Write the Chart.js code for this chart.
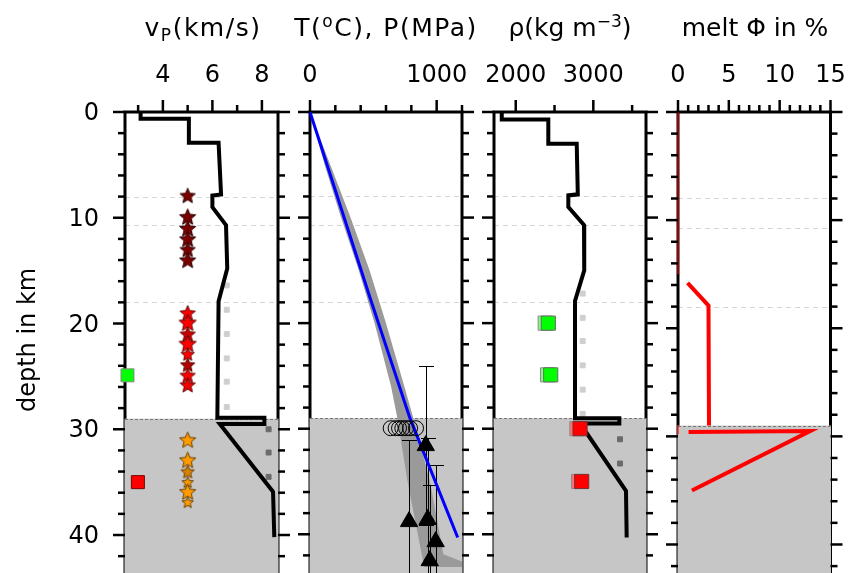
<!DOCTYPE html>
<html lang="en">
<head>
    <meta charset="UTF-8">
    <title>Crustal profile</title>
    <style>
        body { margin: 0; background: #fff; font-family: "DejaVu Sans", sans-serif; }
        #wrap { position: relative; width: 852px; height: 573px; overflow: hidden; }
        canvas { position: absolute; left: 0; top: 0; }
        .title { position: absolute; top: 13px; font-size: 25px; line-height: 29px; white-space: nowrap; transform: translateX(-50%); color: #000; }
        .title sub { font-size: 0.68em; vertical-align: -0.3em; line-height: 0; }
        .title sup { font-size: 0.68em; vertical-align: 0.55em; line-height: 0; }
        .wide { letter-spacing: 1.5px; }
    </style>
</head>
<body>
<div id="wrap">
    <canvas id="vp" width="852" height="578"></canvas>
    <canvas id="tp" width="852" height="578"></canvas>
    <canvas id="rho" width="852" height="578"></canvas>
    <canvas id="melt" width="852" height="578"></canvas>
    <div class="title wide" style="left:203px">v<sub>P</sub>(km/s)</div>
    <div class="title wide" style="left:386px">T(<sup>o</sup>C), P(MPa)</div>
    <div class="title" style="left:570px">&rho;(kg m<sup>&minus;3</sup>)</div>
    <div class="title" style="left:755px">melt &Phi; in %</div>
</div>

<script src="https://cdn.jsdelivr.net/npm/chart.js"></script>
<script>
// ---- depth axis (shared) ----
const depthTicks = [0, 10, 20, 30, 40];
const depthMinor = [2, 4, 6, 8, 12, 14, 16, 18, 22, 24, 26, 28, 32, 34, 36, 38, 42];
const dashDepths = [8, 10.7, 18];
const lowerCrustTop = 29;

// ---- panel 1: vP ----
const vpTicks = [4, 6, 8];
const vpMinor = [3, 5, 7];
const vpDepth = [0, 0.65, 0.65, 2.9, 2.9, 7.8, 7.9, 9.0, 10.7, 14.8, 17.9, 28.9, 28.9, 29.5, 29.5, 35.9, 40.2];
const vpVal   = [3.1, 3.1, 5.05, 5.05, 6.25, 6.35, 6.0, 6.0, 6.55, 6.6, 6.25, 6.2, 8.1, 8.1, 6.3, 8.45, 8.5];
const vpRefUpperDepth = [16.4, 18.7, 21.0, 23.3, 25.5, 27.9];
const vpRefUpperVal = 6.58;
const vpRefLowerDepth = [30.0, 32.2, 34.5];
const vpRefLowerVal = 8.27;
const starVp = 5.0;
const starDarkDepth = [7.9, 9.9, 11.0, 12.0, 13.0, 14.0];
const starRedDepth = [19.0, 19.9, 21.0, 21.9, 22.9, 23.9, 24.9, 25.8];
const starOrangeDepth = [31.0, 32.9, 34.0, 35.0, 35.9, 36.9];
const vpGreen = [{ v: 2.57, d: 24.9 }];
const vpRed = [{ v: 2.99, d: 35.0 }];

// ---- panel 2: T, P ----
const tpTicks = [0, 1000];
const tpMinor = [200, 400, 600, 800, 1200];
const presDepth = [0, 17.6, 29, 40.3];
const presVal   = [0, 474, 789, 1166];
const bandLeftDepth  = [0, 5, 10, 15, 20, 26, 29, 35, 41.9, 43.3];
const bandLeftT      = [0, 115, 245, 385, 510, 640, 690, 770, 882, 905];
const bandRightDepth = [0, 5, 10, 15, 20, 26, 29, 35, 41.9, 42.6, 43.3];
const bandRightT     = [0, 160, 320, 470, 600, 745, 816, 947, 1053, 1205, 1205];
const circT = [637, 676, 703, 729, 758, 790, 837];
const circDepth = 29.95;
const triT = [914, 782, 929, 992, 945];
const triDepth = [31.6, 38.8, 38.6, 40.7, 42.5];
const triErr = [7.5, 7.7, 7.7, 7.3, 7.2];

// ---- panel 3: density ----
const rhoTicks = [2000, 3000];
const rhoMinor = [2500, 3500];
const rhoDepth = [0, 0.7, 0.7, 3.0, 3.0, 7.8, 7.9, 9.0, 10.7, 15.0, 17.9, 29.0, 29.0, 29.5, 29.5, 35.9, 40.3];
const rhoVal   = [1820, 1820, 2420, 2420, 2786, 2800, 2678, 2678, 2880, 2883, 2764, 2764, 3335, 3335, 2830, 3421, 3430];
const rhoRefUpperDepth = [17.2, 19.5, 21.7, 24.0, 26.3, 28.6];
const rhoRefUpperVal = 2863;
const rhoRefLowerDepth = [31.0, 33.3];
const rhoRefLowerVal = 3344;
const rhoGreen = [{ v: 2420, d: 20.0 }, { v: 2451, d: 24.9 }];
const rhoRed = [{ v: 2829, d: 30.0 }, { v: 2850, d: 35.0 }];

// ---- panel 4: melt ----
const meltTicks = [0, 5, 10, 15];
const meltMinor = [1, 2, 3, 4, 6, 7, 8, 9, 11, 12, 13, 14];
const meltThinDepth = [0, 15.0, null, 29.0, 29.8];
const meltThinVal   = [0, 0, null, 0, 0];
const meltDepth = [15.8, 17.9, 29.0, null, 29.6, 29.5, 35.0];
const meltVal   = [0.94, 3.0, 3.05, null, 1.04, 13.0, 1.37];

Chart.defaults.font.family = '"DejaVu Sans", sans-serif';
Chart.defaults.font.size = 24;
Chart.defaults.color = '#000';

const pts = (xs, ys) => xs.map((x, i) => ({ x: x, y: ys[i] }));
const col = (x, ys) => ys.map(y => ({ x: x, y: y }));

function starImage(r, fill, stroke) {
    const c = document.createElement('canvas');
    const s = Math.ceil(2 * r + 4);
    c.width = c.height = s;
    const g = c.getContext('2d');
    g.beginPath();
    for (let i = 0; i < 10; i++) {
        const rr = i % 2 ? r * 0.45 : r;
        const a = -Math.PI / 2 + i * Math.PI / 5;
        g.lineTo(s / 2 + rr * Math.cos(a), s / 2 + rr * Math.sin(a) + r * 0.08);
    }
    g.closePath();
    g.fillStyle = fill;
    g.fill();
    g.strokeStyle = stroke;
    g.lineWidth = 1;
    g.stroke();
    return c;
}

const darkStars = [8, 8.5, 8.5, 8.5, 8, 8.5].map(r => starImage(r, '#7a0000', '#2a0000'));
const redStars = [[8, '#ff0000'], [9, '#ff0000'], [8, '#cc0000'], [9, '#ff0000'], [7, '#ff0000'], [7.5, '#b00000'], [8, '#ff0000'], [8, '#f00000']]
    .map(s => starImage(s[0], s[1], '#600000'));
const orangeStars = [[8.5, '#ff9a00'], [8.5, '#ff9a00'], [7, '#d98200'], [6, '#ff9a00'], [8.5, '#ff9a00'], [6, '#ff9a00']]
    .map(s => starImage(s[0], s[1], '#6a4000'));

function line(ctx, x1, y1, x2, y2) {
    ctx.beginPath();
    ctx.moveTo(x1, y1);
    ctx.lineTo(x2, y2);
    ctx.stroke();
}

// frame, dashed marker lines, grey lower crust and tick marks
const framePlugin = {
    id: 'frame',
    beforeDatasetsDraw(chart) {
        const { ctx, chartArea: a } = chart;
        const y = chart.scales.y;
        ctx.save();
        ctx.strokeStyle = '#d6d6d6';
        ctx.lineWidth = 1;
        ctx.setLineDash([5, 4]);
        dashDepths.forEach(d => {
            const py = Math.round(y.getPixelForValue(d)) + 0.5;
            line(ctx, a.left, py, a.right, py);
        });
        ctx.setLineDash([]);
        ctx.strokeStyle = '#000';
        ctx.lineWidth = 3;
        ctx.strokeRect(a.left, a.top, a.right - a.left, a.bottom - a.top + 20);
        const gy = y.getPixelForValue(lowerCrustTop);
        ctx.fillStyle = '#c6c6c6';
        ctx.fillRect(a.left - 0.5, gy, a.right - a.left + 1, a.bottom - gy + 10);
        ctx.strokeStyle = '#777';
        ctx.lineWidth = 1;
        ctx.setLineDash([3, 2]);
        line(ctx, a.left, Math.round(gy) + 0.5, a.right, Math.round(gy) + 0.5);
        ctx.restore();
    },
    afterDatasetDraw(chart, args) {
        if (chart.data.datasets[args.index].label !== 'band') return;
        const { ctx } = chart;
        const x = chart.scales.x, y = chart.scales.y;
        ctx.save();
        ctx.strokeStyle = '#000';
        ctx.lineWidth = 1;
        triT.forEach((t, i) => {
            const px = Math.round(x.getPixelForValue(t)) + 0.5;
            const y1 = Math.round(y.getPixelForValue(triDepth[i] - triErr[i])) + 0.5;
            const y2 = Math.round(y.getPixelForValue(triDepth[i] + triErr[i])) + 0.5;
            line(ctx, px, y1, px, y2);
            line(ctx, px - 7.5, y1, px + 7.5, y1);
            line(ctx, px - 7.5, y2, px + 7.5, y2);
        });
        ctx.restore();
    },
    afterDraw(chart, args, opts) {
        const { ctx, chartArea: a } = chart;
        const x = chart.scales.x, y = chart.scales.y;
        ctx.save();
        ctx.strokeStyle = '#000';
        ctx.lineWidth = 2.5;
        opts.major.forEach(v => { const px = x.getPixelForValue(v); line(ctx, px, a.top, px, a.top - 12); });
        opts.minor.forEach(v => { const px = x.getPixelForValue(v); line(ctx, px, a.top, px, a.top - 7); });
        depthTicks.forEach(d => {
            const py = y.getPixelForValue(d);
            line(ctx, a.left, py, a.left - 12, py);
            line(ctx, a.right, py, a.right + 12, py);
        });
        depthMinor.forEach(d => {
            const py = y.getPixelForValue(d);
            line(ctx, a.left, py, a.left - 7, py);
            line(ctx, a.right, py, a.right + 7, py);
        });
        ctx.restore();
    }
};

function makePanel(id, left, right, xMin, xMax, xTicks, xMinor, datasets, showDepth) {
    return new Chart(document.getElementById(id), {
        type: 'scatter',
        data: { datasets: datasets },
        plugins: [framePlugin],
        options: {
            responsive: false,
            animation: false,
            events: [],
            layout: { padding: { left: showDepth ? 0 : left, right: 852 - right, top: 0, bottom: 0 } },
            plugins: {
                legend: { display: false },
                tooltip: { enabled: false },
                frame: { major: xTicks, minor: xMinor }
            },
            scales: {
                x: {
                    type: 'linear', position: 'top', min: xMin, max: xMax,
                    grid: { display: false, drawTicks: false }, border: { display: false },
                    ticks: { padding: 22, callback: v => String(v) },
                    afterBuildTicks: s => { s.ticks = xTicks.map(v => ({ value: v })); },
                    afterFit: s => { s.height = 112; s.paddingLeft = 0; s.paddingRight = 0; }
                },
                y: {
                    type: 'linear', reverse: true, min: 0, max: 43.1, display: showDepth,
                    grid: { display: false, drawTicks: false }, border: { display: false },
                    ticks: { padding: 26, labelOffset: 2, callback: v => String(v) },
                    title: { display: showDepth, text: 'depth in km', padding: { top: 14, bottom: 0 } },
                    afterBuildTicks: s => { s.ticks = depthTicks.map(v => ({ value: v })); },
                    afterFit: s => { if (showDepth) s.width = left; s.paddingTop = 0; s.paddingBottom = 0; }
                }
            }
        }
    });
}

const lineDs = (data, color, width, order) => ({
    data: data, showLine: true, borderColor: color, borderWidth: width, pointRadius: 0,
    borderJoinStyle: 'miter', spanGaps: false, clip: false, order: order
});
const markDs = (data, style, radius, fill, stroke, order) => ({
    data: data, pointStyle: style, pointRadius: radius, backgroundColor: fill,
    borderColor: stroke, borderWidth: 1, clip: false, order: order
});

makePanel('vp', 125, 278, 2.47, 8.65, vpTicks, vpMinor, [
    lineDs(pts(vpVal, vpDepth), '#000', 4, 3),
    markDs(col(vpRefUpperVal, vpRefUpperDepth), 'rect', 3.5, '#cfcfcf', '#cfcfcf', 4),
    markDs(col(vpRefLowerVal, vpRefLowerDepth), 'rect', 3.5, '#6a6a6a', '#6a6a6a', 4),
    markDs(col(starVp, starDarkDepth), darkStars, 8, '#7a0000', '#000', 1),
    markDs(col(starVp, starRedDepth), redStars, 8, '#f00', '#000', 1),
    markDs(col(starVp, starOrangeDepth), orangeStars, 8, '#f90', '#000', 1),
    markDs(vpGreen.map(p => ({ x: p.v, y: p.d })), 'rect', 9.2, '#00ff00', '#8a8a8a', 2),
    markDs(vpRed.map(p => ({ x: p.v, y: p.d })), 'rect', 9.2, '#ff0000', '#7a0000', 2)
], true);

makePanel('tp', 310, 462, 0, 1200, tpTicks, tpMinor, [
    Object.assign(lineDs(pts(bandLeftT, bandLeftDepth).concat(pts(bandRightT, bandRightDepth).reverse()), 'rgba(0,0,0,0)', 0, 9),
        { label: 'band', fill: 'shape', backgroundColor: '#9a9a9a', clip: undefined }),
    lineDs(pts(presVal, presDepth), '#0000ff', 3, 2),
    markDs(circT.map(t => ({ x: t, y: circDepth })), 'circle', 7.5, 'rgba(0,0,0,0)', '#000', 1),
    markDs(pts(triT, triDepth), 'triangle', 10, '#000', '#000', 1)
], false);

makePanel('rho', 494, 646, 1720, 3679, rhoTicks, rhoMinor, [
    lineDs(pts(rhoVal, rhoDepth), '#000', 4, 3),
    markDs(col(rhoRefUpperVal, rhoRefUpperDepth), 'rect', 3.5, '#cfcfcf', '#cfcfcf', 4),
    markDs(col(rhoRefLowerVal, rhoRefLowerDepth), 'rect', 3.5, '#6a6a6a', '#6a6a6a', 4),
    markDs(rhoGreen.map(p => ({ x: p.v - 40, y: p.d })), 'rect', 10, '#7dff7d', '#8a8a8a', 2),
    markDs(rhoGreen.map(p => ({ x: p.v, y: p.d })), 'rect', 10, '#00ff00', '#6a6a6a', 1),
    markDs(rhoRed.map(p => ({ x: p.v - 40, y: p.d })), 'rect', 10, '#ff7070', '#8a8a8a', 2),
    markDs(rhoRed.map(p => ({ x: p.v, y: p.d })), 'rect', 10, '#ff0000', '#7a3030', 1)
], false);

makePanel('melt', 678, 830.5, 0, 15, meltTicks, meltMinor, [
    lineDs(pts(meltThinVal, meltThinDepth), '#ff0000', 1.2, 2),
    lineDs(pts(meltVal, meltDepth), '#ff0000', 4, 1)
], false);
</script>
</body>
</html>
